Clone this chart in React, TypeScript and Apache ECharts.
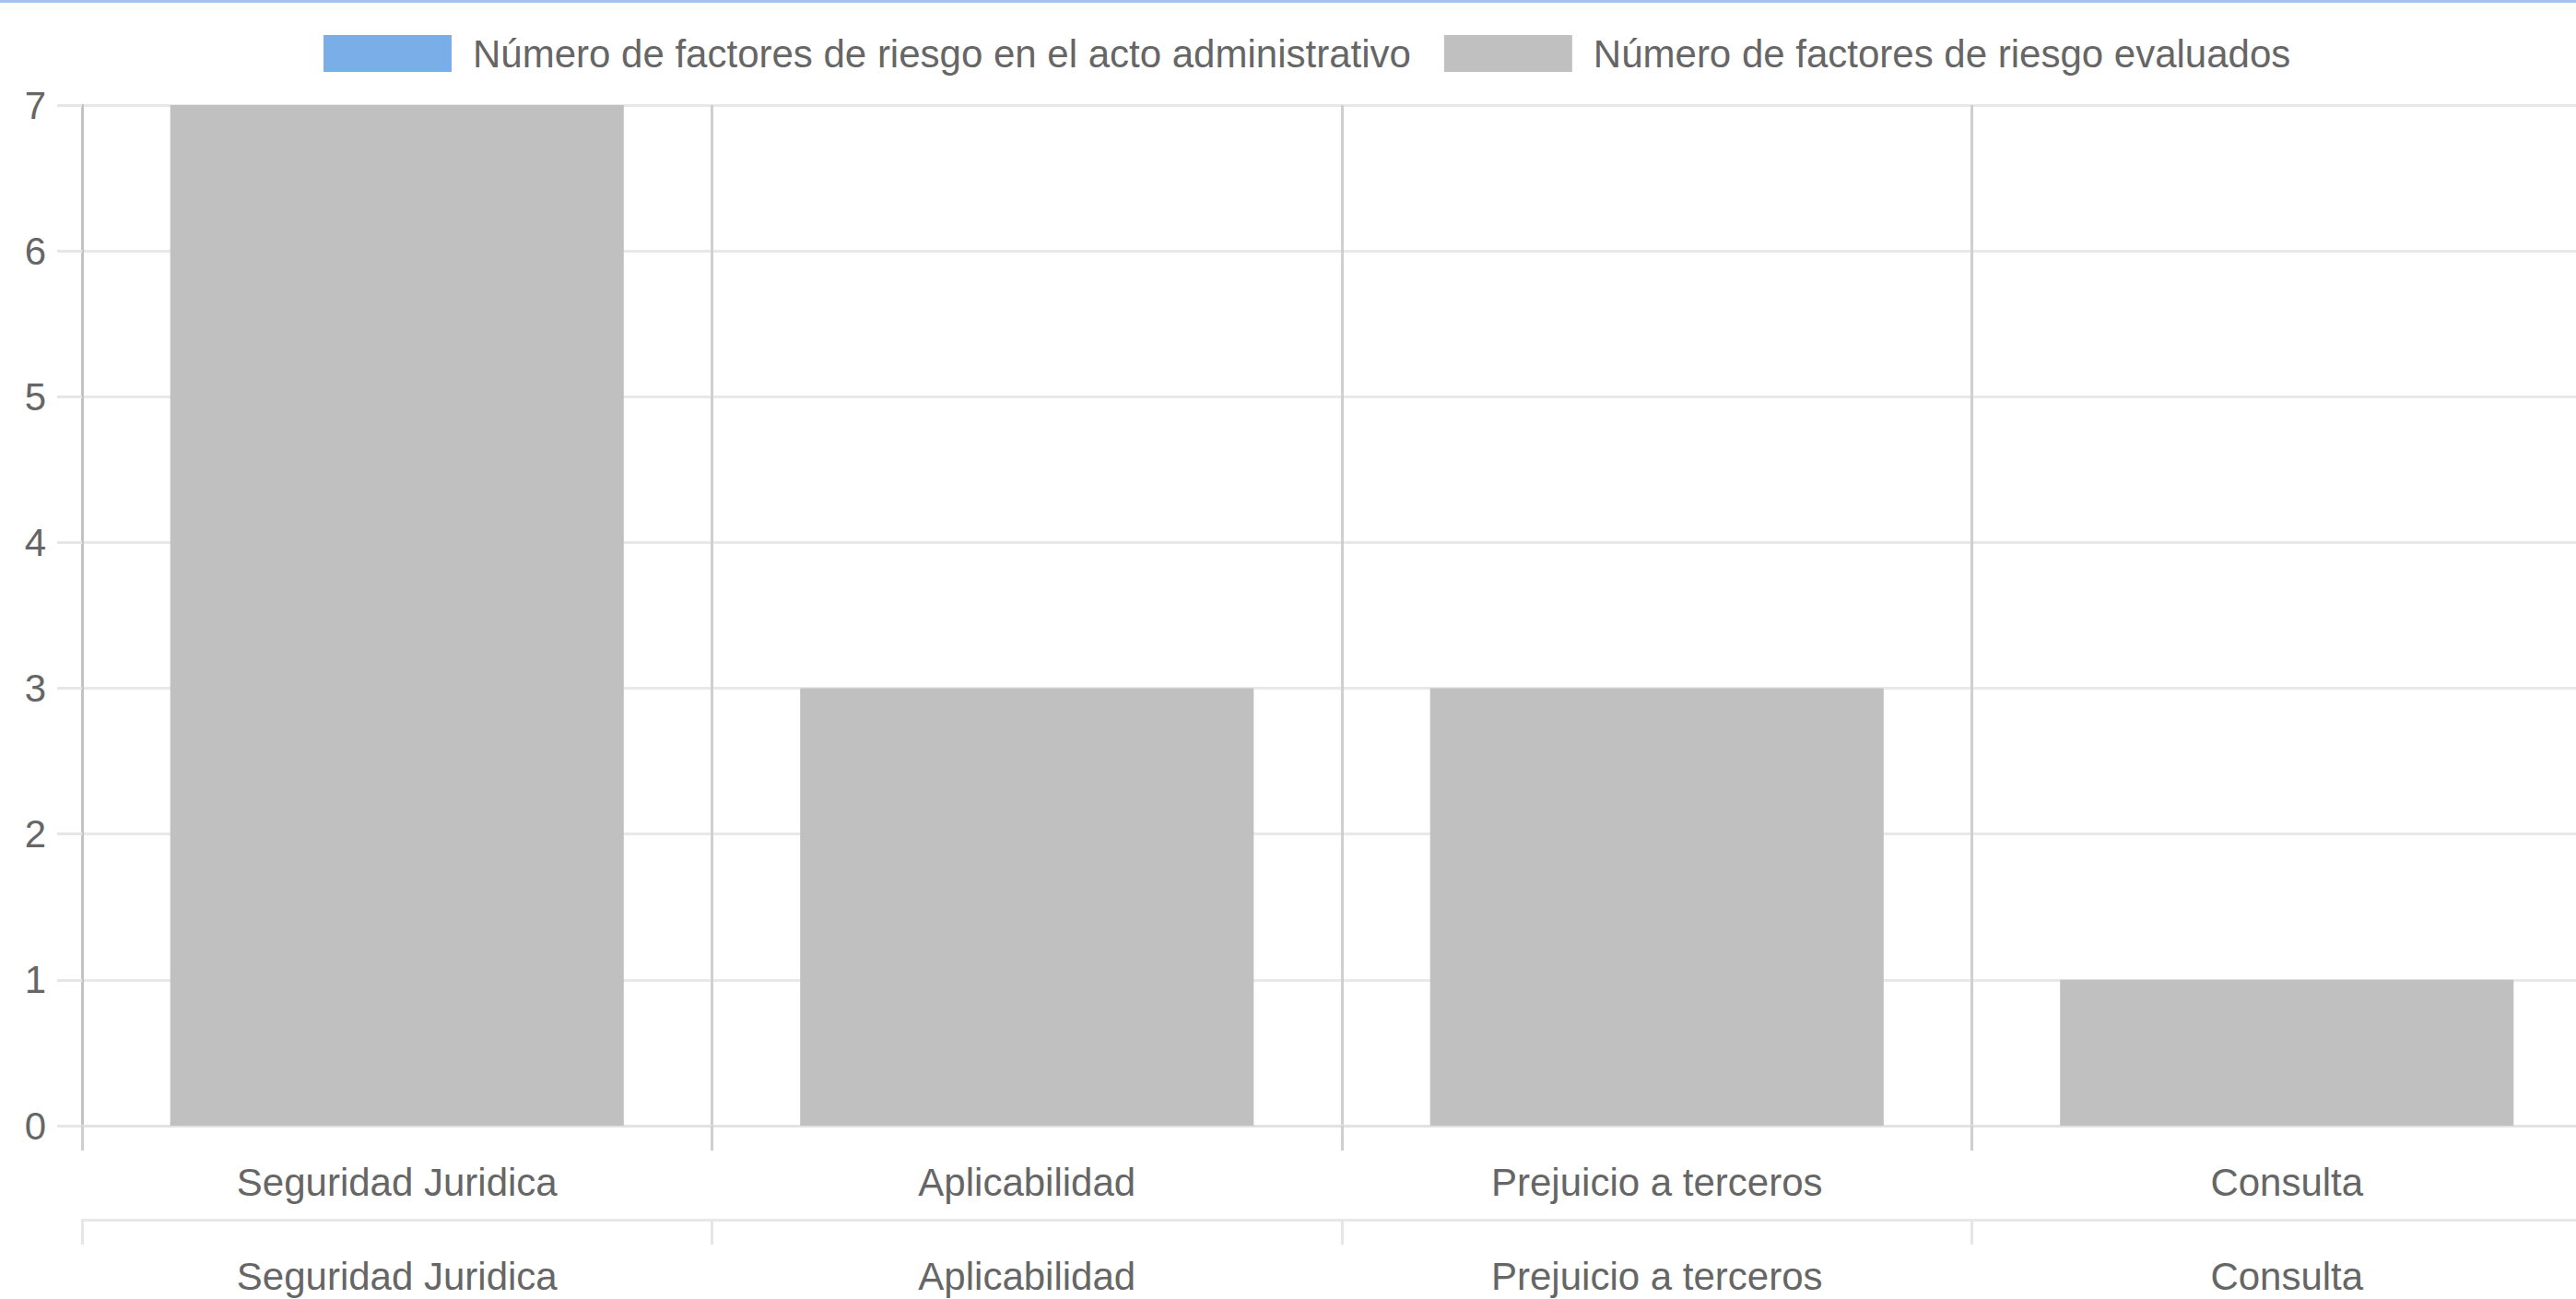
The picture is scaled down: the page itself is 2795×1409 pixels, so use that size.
import React, { useEffect, useRef } from "react";
import * as echarts from "echarts";

const categories = ["Seguridad Juridica", "Aplicabilidad", "Prejuicio a terceros", "Consulta"];
const seriesNames = [
  "Número de factores de riesgo en el acto administrativo",
  "Número de factores de riesgo evaluados",
];
const actoValues = [0, 0, 0, 0];
const evaluadosValues = [7, 3, 3, 1];
const yTicks = { min: 0, max: 7, interval: 1 };

const FONT = "'Liberation Sans', Arial, Helvetica, sans-serif";
const TEXT = "#666666";

export default function App() {
  const ref = useRef<HTMLDivElement>(null);
  useEffect(() => {
    if (!ref.current) return;
    const chart = echarts.init(ref.current, null, { renderer: "svg" });
    const catAxis = (offset: number, split: boolean, lineColor: string, tickColor: string) => ({
      type: "category",
      position: "bottom",
      offset,
      data: categories,
      boundaryGap: true,
      axisLine: { show: true, lineStyle: { color: lineColor, width: 3 } },
      axisTick: { show: true, length: 27, interval: 0, lineStyle: { color: tickColor, width: 3 } },
      axisLabel: { show: true, interval: 0, fontSize: 42, color: TEXT, fontFamily: FONT, margin: 40 },
      splitLine: { show: split, interval: 0, lineStyle: { color: "#cfcfcf", width: 3 } },
    });
    chart.setOption({
      animation: false,
      backgroundColor: "#ffffff",
      textStyle: { fontFamily: FONT },
      graphic: [
        { type: "rect", left: 0, top: 0, shape: { width: 2830, height: 3 }, style: { fill: "#a3c3ef" }, z: 100 },
        { type: "rect", left: 0, top: 3, shape: { width: 2830, height: 8 }, style: { fill: "#fbfef6" }, z: 100 },
      ],
      legend: {
        left: 346,
        top: 32,
        itemWidth: 139,
        itemHeight: 40,
        itemGap: 36,
        icon: "rect",
        textStyle: { fontSize: 42, color: TEXT, fontFamily: FONT, padding: [0, 0, 0, 18] },
        data: seriesNames,
      },
      grid: { left: 89, top: 114, right: 0, bottom: 188, containLabel: false },
      xAxis: [
        catAxis(0, true, "#e2e2e2", "#cfcfcf"),
        catAxis(102, false, "#e8e8e8", "#e6e6e6"),
      ],
      yAxis: {
        type: "value",
        min: yTicks.min,
        max: yTicks.max,
        interval: yTicks.interval,
        axisLine: { show: true, lineStyle: { color: "#c2c2c2", width: 3 } },
        axisTick: { show: true, length: 27, lineStyle: { color: "#e6e6e6", width: 3 } },
        axisLabel: { fontSize: 42, color: TEXT, fontFamily: FONT, margin: 39 },
        splitLine: { show: true, lineStyle: { color: "#e8e8e8", width: 3 } },
      },
      series: [
        {
          name: seriesNames[0],
          type: "bar",
          xAxisIndex: 0,
          data: actoValues,
          itemStyle: { color: "#7aaee8" },
          barCategoryGap: "28%",
        },
        {
          name: seriesNames[1],
          type: "bar",
          xAxisIndex: 1,
          data: evaluadosValues,
          itemStyle: { color: "#c0c0c0" },
          barCategoryGap: "28%",
        },
      ],
    });
    return () => chart.dispose();
  }, []);
  return (
    <div
      style={{
        position: "absolute",
        left: 0,
        top: 0,
        width: 2795,
        height: 1409,
        overflow: "hidden",
        background: "#fff",
      }}
    >
      <div ref={ref} style={{ position: "absolute", left: 0, top: 0, width: 2823, height: 1409 }} />
    </div>
  );
}
